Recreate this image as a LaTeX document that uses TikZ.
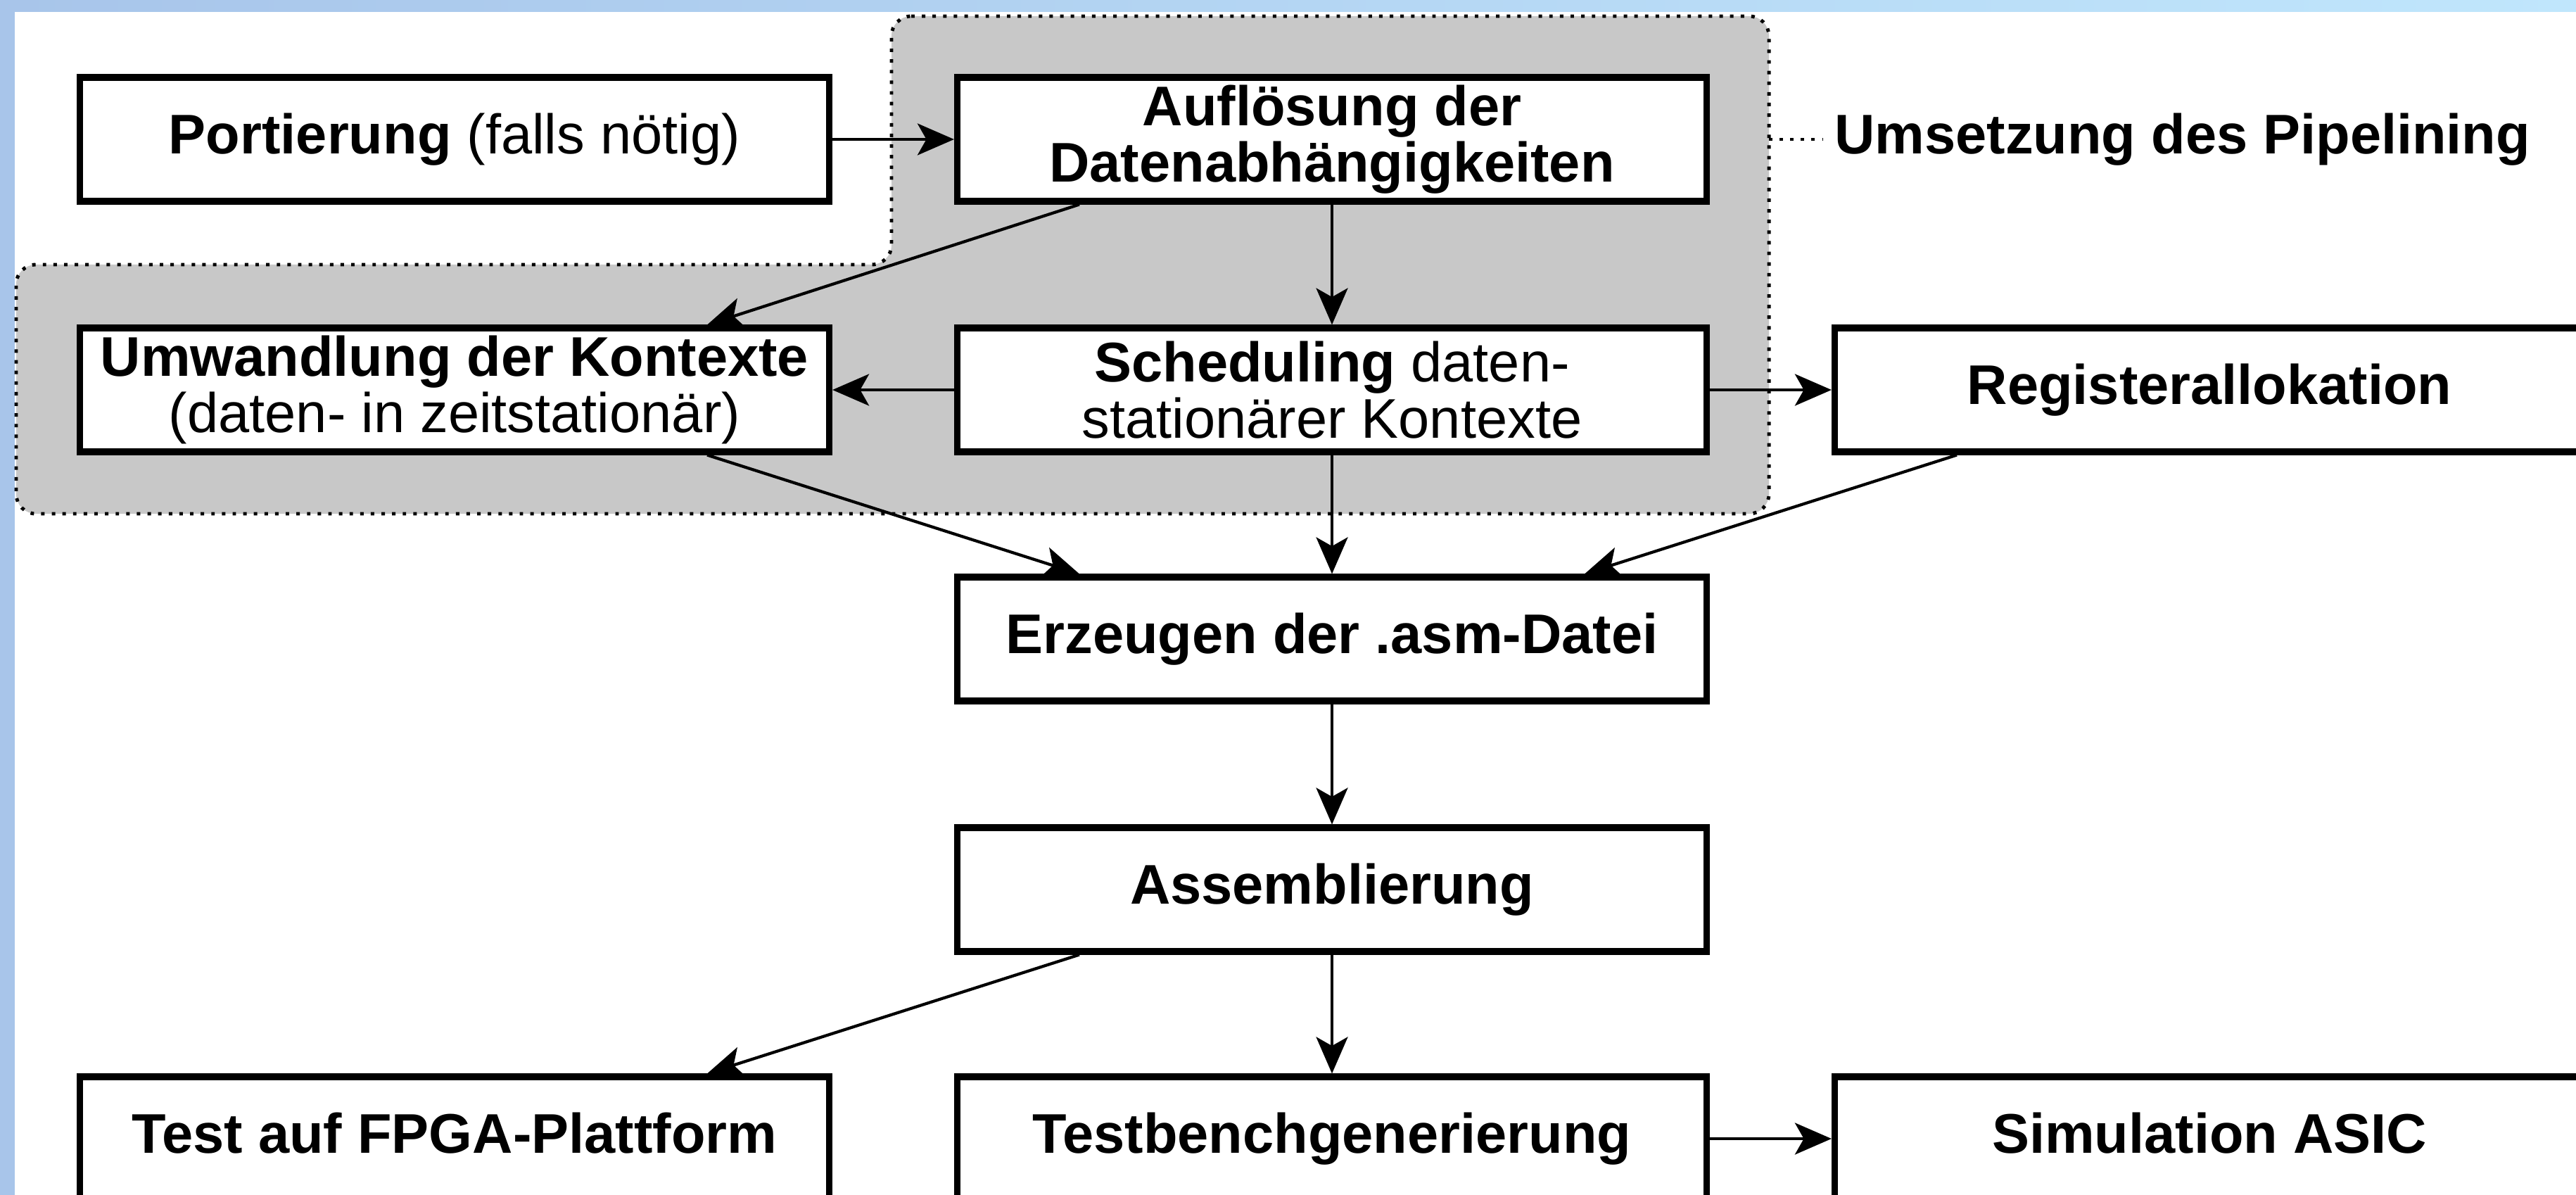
\documentclass[tikz,border=0pt]{standalone}
\usepackage{fontspec}
\setmainfont{Liberation Sans}
\usetikzlibrary{arrows.meta}
\definecolor{slideblue}{HTML}{A8C5EA}
\definecolor{slidecyan}{HTML}{C0E6FC}
\definecolor{pipegray}{HTML}{C8C8C8}

\begin{document}
\begin{tikzpicture}[
  stage/.style={draw, line width=1.3pt, fill=white, minimum width=5.325cm,
    minimum height=0.88cm, inner sep=0pt, align=center,
    font=\fontsize{11.3}{11.3}\selectfont},
  oneline/.style={stage, text height=8.25pt, text depth=2.37pt},
  flow/.style={-{Stealth[length=7.4pt, width=6.4pt, inset=1.8pt]}, line width=0.6pt},
  pipedots/.style={dash pattern=on 0.7pt off 1.45pt, line width=0.7pt}
]
  \useasboundingbox (0,0) rectangle (18.305,-8.49);
  \clip (0,0) rectangle (18.305,-8.49);
  % slide frame
  \fill[slideblue] (0,0) rectangle (0.1035,-8.49);
  \shade[left color=slideblue, right color=slidecyan] (0,0) rectangle (18.305,-0.083);
  % pipelining region
  \draw[pipedots, fill=pipegray, rounded corners=0.14cm] (6.335,-0.115) -- (12.57,-0.115)
    -- (12.57,-3.65) -- (0.115,-3.65) -- (0.115,-1.88) -- (6.335,-1.88) -- cycle;
  \coordinate (pipeedge) at (12.57,-0.99);
  \node[font=\bfseries\fontsize{11.3}{11.3}\selectfont, anchor=west, inner sep=0.08cm]
    (pipelbl) at (12.95,-0.99) {Umsetzung des Pipelining};
  \draw[pipedots] (pipeedge) -- (pipelbl.west);

  \node[oneline] (port) at (3.23,-0.99) {\textbf{Portierung} (falls nötig)};
  \node[stage] (aufl) at (9.465,-0.99) {\textbf{Auflösung der}\\\textbf{Datenabhängigkeiten}};
  \node[stage] (umw) at (3.23,-2.77) {\textbf{Umwandlung der Kontexte}\\(daten- in zeitstationär)};
  \node[stage] (sched) at (9.465,-2.77) {\textbf{Scheduling} daten-\\stationärer Kontexte};
  \node[oneline] (reg) at (15.70,-2.77) {\textbf{Registerallokation}};
  \node[oneline] (asmdatei) at (9.465,-4.54) {\textbf{Erzeugen der .asm-Datei}};
  \node[oneline] (assem) at (9.465,-6.32) {\textbf{Assemblierung}};
  \node[oneline] (fpga) at (3.23,-8.09) {\textbf{Test auf FPGA-Plattform}};
  \node[oneline] (tb) at (9.465,-8.09) {\textbf{Testbenchgenerierung}};
  \node[oneline] (asic) at (15.70,-8.09) {\textbf{Simulation ASIC}};

  \draw[flow] (port.east) -- (aufl.west);
  \draw[flow] ([xshift=0.89cm]aufl.south west) -- ([xshift=-0.89cm]umw.north east);
  \draw[flow] (aufl.south) -- (sched.north);
  \draw[flow] (sched.west) -- (umw.east);
  \draw[flow] (sched.east) -- (reg.west);
  \draw[flow] ([xshift=-0.89cm]umw.south east) -- ([xshift=0.89cm]asmdatei.north west);
  \draw[flow] (sched.south) -- (asmdatei.north);
  \draw[flow] ([xshift=0.89cm]reg.south west) -- ([xshift=-0.89cm]asmdatei.north east);
  \draw[flow] (asmdatei.south) -- (assem.north);
  \draw[flow] ([xshift=0.89cm]assem.south west) -- ([xshift=-0.89cm]fpga.north east);
  \draw[flow] (assem.south) -- (tb.north);
  \draw[flow] (tb.east) -- (asic.west);
\end{tikzpicture}
\end{document}
